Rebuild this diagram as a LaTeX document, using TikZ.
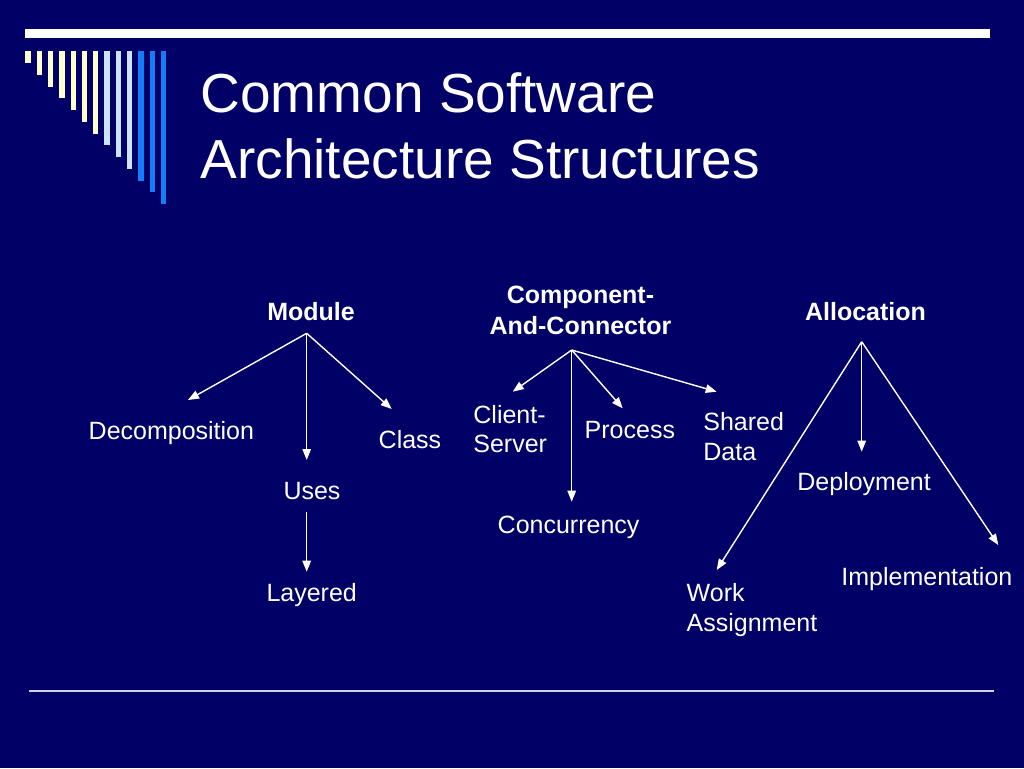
\documentclass[tikz,border=0pt]{standalone}
\usepackage{fontspec}
\setmainfont{Liberation Sans}
\usetikzlibrary{arrows.meta}
\definecolor{slide_bg}{RGB}{0,0,102}
\definecolor{bar_cream}{RGB}{255,255,204}
\definecolor{bar_light}{RGB}{204,228,255}
\definecolor{bar_blue}{RGB}{20,125,250}
\definecolor{rule_gray}{RGB}{210,210,230}

\begin{document}
\begin{tikzpicture}[x=1pt,y=-1pt,->,>={Triangle[length=11pt,width=8.5pt]},line width=1.4pt,white]
    \tikzstyle{lbl}=[text=white, inner sep=0pt, font=\fontsize{25}{31}\selectfont]
    \tikzstyle{head}=[style=lbl, font=\bfseries\fontsize{25}{31}\selectfont]
    \tikzstyle{ttl}=[text=white, inner sep=0pt, anchor=base west, font=\fontsize{55}{66}\selectfont]

    % background and frame
    \fill[slide_bg] (0,0) rectangle (1024,768);
    \useasboundingbox (0,0) rectangle (1024,768);
    \fill[white] (25,29.3) rectangle (990,38.3);
    \foreach \i in {0,...,12} {
      \ifnum\i<7 \def\barcol{bar_cream}\else\ifnum\i<10 \def\barcol{bar_light}\else\def\barcol{bar_blue}\fi\fi
      \fill[\barcol] (25.3+11.3*\i,51) rectangle (30.6+11.3*\i,63+11.75*\i);
    }
    \draw[-,rule_gray,line width=1.3pt] (29,691) -- (994,691);

    \node[ttl] (t1) at (200,112) {Common Software};
    \node[ttl] (t2) at (200,178) {Architecture Structures};

    % headings
    \node[head, anchor=base] (mod)  at (311,320)   {Module};
    \node[head, anchor=base] (cc1)  at (580.5,303) {Component-};
    \node[head, anchor=base] (cc2)  at (580.5,334) {And-Connector};
    \node[head, anchor=base] (all)  at (865.5,320) {Allocation};

    % leaves
    \node[lbl, anchor=base west] (dec) at (88,439.5)   {Decomposition};
    \node[lbl, anchor=base west] (cls) at (378,448)    {Class};
    \node[lbl, anchor=base]      (use) at (312,499)    {Uses};
    \node[lbl, anchor=base]      (lay) at (311.7,601.7){Layered};
    \node[lbl, anchor=base west] (cs1) at (472.7,423.3){Client-};
    \node[lbl, anchor=base west] (cs2) at (472.7,452.7){Server};
    \node[lbl, anchor=base west] (pro) at (584,438)    {Process};
    \node[lbl, anchor=base west] (sd1) at (702.7,430.7){Shared};
    \node[lbl, anchor=base west] (sd2) at (702.7,460.7){Data};
    \node[lbl, anchor=base west] (con) at (497,533)    {Concurrency};
    \node[lbl, anchor=base west] (dep) at (796.7,490)  {Deployment};
    \node[lbl, anchor=base west] (imp) at (840.7,585)  {Implementation};
    \node[lbl, anchor=base west] (wa1) at (686,601.7)  {Work};
    \node[lbl, anchor=base west] (wa2) at (686,631.7)  {Assignment};

    % arrow ends
    \coordinate (modtop) at (306.7,333.3);
    \coordinate (cctop)  at (571.7,350);
    \coordinate (alltop) at (861.7,341.7);
    \coordinate (dectip) at (188,400);
    \coordinate (clstip) at (391.7,409);
    \coordinate (usetip) at (306.7,460);
    \coordinate (usebot) at (306.7,511.7);
    \coordinate (laytip) at (306.7,571.7);
    \coordinate (cstip)  at (512.7,391.7);
    \coordinate (protip) at (622.7,408.3);
    \coordinate (sdtip)  at (716.7,391.7);
    \coordinate (contip) at (571.7,501.7);
    \coordinate (deptip) at (861.7,451.7);
    \coordinate (watip)  at (716.7,570);
    \coordinate (imptip) at (998.3,545);

    \path
     (modtop) edge[] (dectip)
     (modtop) edge[] (clstip)
     (modtop) edge[] (usetip)
     (usebot) edge[] (laytip)
     (cctop)  edge[] (cstip)
     (cctop)  edge[] (protip)
     (cctop)  edge[] (sdtip)
     (cctop)  edge[] (contip)
     (alltop) edge[] (deptip)
     (alltop) edge[] (watip)
     (alltop) edge[] (imptip)
     ;
\end{tikzpicture}
\end{document}
